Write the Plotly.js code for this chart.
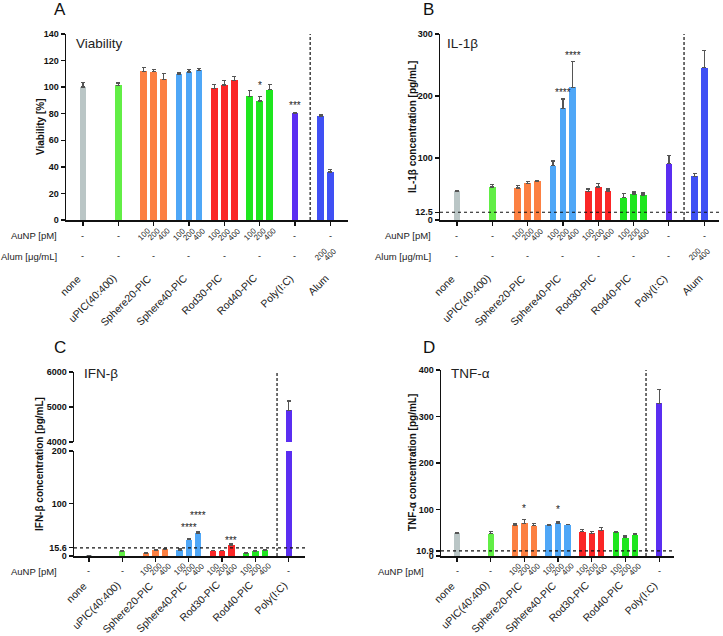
<!DOCTYPE html>
<html><head><meta charset="utf-8">
<script src="https://cdn.plot.ly/plotly-3.0.1.min.js"></script>
<style>html,body{margin:0;padding:0;background:#fff}#chart{width:723px;height:636px}</style>
</head><body><div id="chart"></div>
<script>
// ---------------- DATA ----------------
const groups = ['none','uPIC(40:400)','Sphere20-PIC','Sphere40-PIC','Rod30-PIC','Rod40-PIC','Poly(I:C)','Alum'];
const auNPDoses = ['100','200','400'];
const alumDoses = ['200','400'];
// group index of each bar (A, B include Alum; C, D do not)
const barGroupAB = [0,1,2,2,2,3,3,3,4,4,4,5,5,5,6,7,7];
const barGroupCD = [0,1,2,2,2,3,3,3,4,4,4,5,5,5,6];

const viabilityMean = [100,101.5, 112,111.7,106, 109.7,111.3,112.7, 99.2,101.7,105.2, 93.2,89.5,98, 80.2, 78.2,36.2];
const viabilityErr  = [3.5,1.7, 3,1.5,4.2, 1,2,1.3, 2.8,3.2,2.8, 4.5,3.2,3.8, 0.5, 1,2];

const il1bMean = [46.4,53.4, 51.7,59.2,62.5, 87.7,180.4,214.2, 46.4,53.4,47, 36.2,42.1,40.5, 90.9, 70.5,245.8];
const il1bErr  = [1.6,3.6, 4.3,3.3,1, 7.5,15,41.3, 3.6,5.3,3, 7,3.2,3.2, 12.9, 4.8,27.4];

const ifnbMean = [1,9.4, 5,11.3,12.6, 11.3,31.4,43.4, 10,10,20.8, 5.7,8.8,11.3, 4905];
const ifnbErr  = [0.5,1.3, 1.3,0.7,1.2, 1.9,2.6,2.6, 0.7,0.7,1.8, 0.6,0.6,0.7, 266];

const tnfaMean = [48.6,47.8, 66.7,70.3,65.2, 66.7,71,67.4, 52.2,48.6,55, 50.7,39.1,45.7, 328];
const tnfaErr  = [2.1,5.1, 2.1,8.7,4.4, 1.4,2.9,0.7, 5,3.6,6.6, 2.2,3.7,2.9, 30];

// significance labels: bar index -> text
const sigViability = [[12,'*'],[14,'***']];
const sigIl1b = [[6,'****'],[7,'****']];
const sigIfnb = [[6,'****'],[7,'****'],[10,'***']];
const sigTnfa = [[3,'*'],[6,'*']];

// reference lines (assay detection limits)
const limitIl1b = 12.5, limitIfnb = 15.6, limitTnfa = 10.9;

// ---------------- STYLE ----------------
const groupColors = ['#bac6c6','#62ee46','#fc8042','#4fa7f7','#fa2626','#1ee61e','#5a2ef1','#3f50f4'];
const FONT = 'Liberation Sans, Arial, Helvetica, sans-serif';
const W = 723, H = 636;
const X = px => px / W, Y = py => 1 - py / H;

function positions(barGroup){
  const xs = [], size = {}, count = {};
  barGroup.forEach(g => size[g] = (size[g]||0) + 1);
  barGroup.forEach(g => {
    const i = count[g] = (count[g]===undefined ? 0 : count[g]+1);
    let off = 0;
    if (size[g] === 3) off = (i - 1) * 0.28;
    else if (size[g] === 2) off = (i - 1) * 0.27;
    xs.push(g + off);
  });
  return {xs, size};
}

const panels = [
  {letter:'A', title:'Viability', ytitle:'Viability [%]', xa:'x', ya:'y', barGroup:barGroupAB, mean:viabilityMean, err:viabilityErr, sig:sigViability, sigLift:[4,0],
   px:[66,348], py:[34,220], xr:[-0.48,7.5], yr:[0,140], tickvals:[0,20,40,60,80,100,120,140], dash:6.43, limit:null,
   rows:[['AuNP [pM]',236],['Alum [μg/mL]',256]], rowRight:59, catY:269, letterPos:[60,10], titlePos:[74,43], ytitlePos:[40,127]},
  {letter:'B', title:'IL-1β', ytitle:'IL-1β concentration [pg/mL]', xa:'x2', ya:'y2', barGroup:barGroupAB, mean:il1bMean, err:il1bErr, sig:sigIl1b, sigLift:[-1,-1],
   px:[440,719], py:[34,220], xr:[-0.48,7.42], yr:[0,300], tickvals:[0,12.5,100,200,300], dash:6.43, limit:limitIl1b,
   rows:[['AuNP [pM]',236],['Alum [μg/mL]',256]], rowRight:433, catY:269, letterPos:[428,10], titlePos:[445,43], ytitlePos:[412,127]},
  {letter:'C', title:'IFN-β', ytitle:'IFN-β concentration [pg/mL]', xa:'x3', ya:'y3', yUpper:'y4', barGroup:barGroupCD, mean:ifnbMean, err:ifnbErr, sig:sigIfnb, sigLift:[3,9,-4],
   px:[74,305], py:[451,556], pyUpper:[372,442], xr:[-0.45,6.49], yr:[0,200], yrUpper:[4000,6000], tickvals:[0,15.6,100,200], tickvalsUpper:[4000,5000,6000], dash:5.65, limit:limitIfnb,
   rows:[['AuNP [pM]',571]], rowRight:59, catY:576, letterPos:[60,347], titlePos:[82,373], ytitlePos:[40,464]},
  {letter:'D', title:'TNF-α', ytitle:'TNF-α concentration [pg/mL]', xa:'x4', ya:'y5', barGroup:barGroupCD, mean:tnfaMean, err:tnfaErr, sig:sigTnfa, sigLift:[3,5],
   px:[441,674], py:[370,556], xr:[-0.475,6.44], yr:[0,400], tickvals:[0,10.9,100,200,300,400], dash:5.61, limit:limitTnfa,
   rows:[['AuNP [pM]',571]], rowRight:426, catY:576, letterPos:[429,347], titlePos:[449,373], ytitlePos:[412,463]}
];

const traces = [], annotations = [], shapes = [];
const layout = {
  width: W, height: H, margin:{l:0,r:0,t:0,b:0}, paper_bgcolor:'#fff', plot_bgcolor:'#fff',
  showlegend:false, font:{family:FONT, color:'#222'}, bargap:0,
  annotations, shapes
};

function axisBase(){
  return {showline:true, linecolor:'#111', linewidth:1.5, ticks:'outside', ticklen:4, tickwidth:1.3, tickcolor:'#111',
          showgrid:false, zeroline:false, fixedrange:true, automargin:false};
}
const ytickfont = {family:FONT, size:9, color:'#111', weight:'bold'};

panels.forEach(p => {
  const {xs, size} = positions(p.barGroup);
  const nG = Math.max(...p.barGroup) + 1;
  const colors = p.barGroup.map(g => groupColors[g]);
  const xKey = p.xa === 'x' ? 'xaxis' : 'xaxis' + p.xa.slice(1);
  const yKey = p.ya === 'y' ? 'yaxis' : 'yaxis' + p.ya.slice(1);
  layout[xKey] = Object.assign(axisBase(), {domain:[X(p.px[0]),X(p.px[1])], range:p.xr, anchor:p.ya,
     tickvals:[...Array(nG).keys()], showticklabels:false});
  layout[yKey] = Object.assign(axisBase(), {domain:[Y(p.py[1]),Y(p.py[0])], range:p.yr, anchor:p.xa,
     tickvals:p.tickvals, ticktext:p.tickvals.map(String), tickfont:ytickfont});
  const bar = (ya) => ({type:'bar', x:xs, y:p.mean, width:xs.map(()=>0.19), xaxis:p.xa, yaxis:ya,
     marker:{color:colors, line:{width:0}},
     error_y:{type:'data', symmetric:false, array:p.err, arrayminus:p.err.map(()=>0), color:'#555', thickness:1.3, width:2},
     hoverinfo:'skip'});
  traces.push(bar(p.ya));
  let topPy = p.py[0];
  if (p.yUpper){
    const uKey = 'yaxis' + p.yUpper.slice(1);
    layout[uKey] = Object.assign(axisBase(), {domain:[Y(p.pyUpper[1]),Y(p.pyUpper[0])], range:p.yrUpper, anchor:p.xa,
       tickvals:p.tickvalsUpper, ticktext:p.tickvalsUpper.map(String), tickfont:ytickfont});
    traces.push(bar(p.yUpper));
    topPy = p.pyUpper[0];
  }
  // dashed separator
  shapes.push({type:'line', xref:p.xa, yref:'paper', x0:p.dash, x1:p.dash, y0:Y(p.py[1]), y1:Y(topPy),
     line:{color:'#333', width:1.4, dash:'3px,2px'}});
  // detection-limit dotted line
  if (p.limit !== null){
    shapes.push({type:'line', xref:p.xa+' domain', yref:p.ya, x0:0, x1:1, y0:p.limit, y1:p.limit,
       line:{color:'#111', width:1.2, dash:'dot'}});
  }
  // significance stars
  p.sig.forEach(([bi, txt], k) => {
    annotations.push({xref:p.xa, yref:p.ya, x:xs[bi], y:p.mean[bi]+p.err[bi], text:txt, showarrow:false,
       xanchor:'center', yanchor:'bottom', yshift:p.sigLift[k]||0, font:{family:FONT, size:10, color:'#222'}});
  });
  // panel letter, inner title, y title
  annotations.push({xref:'paper', yref:'paper', x:X(p.letterPos[0]), y:Y(p.letterPos[1]), text:p.letter, showarrow:false,
     xanchor:'center', yanchor:'middle', font:{family:FONT, size:17, color:'#111'}});
  annotations.push({xref:'paper', yref:'paper', x:X(p.titlePos[0]), y:Y(p.titlePos[1]), text:p.title, showarrow:false,
     xanchor:'left', yanchor:'middle', font:{family:FONT, size:13.5, color:'#222'}});
  annotations.push({xref:'paper', yref:'paper', x:X(p.ytitlePos[0]), y:Y(p.ytitlePos[1]), text:p.ytitle, showarrow:false,
     xanchor:'center', yanchor:'middle', textangle:-90, font:{family:FONT, size:10, color:'#111', weight:'bold'}});
  // condition rows
  p.rows.forEach(([label, rowPy]) => {
    annotations.push({xref:'paper', yref:'paper', x:X(p.rowRight), y:Y(rowPy), text:label, showarrow:false,
       xanchor:'right', yanchor:'middle', font:{family:FONT, size:9.5, color:'#222'}});
    const isAlumRow = label.startsWith('Alum');
    for (let g = 0; g < nG; g++){
      const idx = p.barGroup.map((bg,i)=>bg===g?i:-1).filter(i=>i>=0);
      const showDoses = isAlumRow ? (groups[g]==='Alum') : (size[g]===3);
      if (showDoses){
        const doses = isAlumRow ? alumDoses : auNPDoses;
        idx.forEach((bi, j) => annotations.push({xref:p.xa, yref:'paper', x:xs[bi], y:Y(rowPy-2), text:doses[j], showarrow:false,
          xanchor:'center', yanchor:'middle', textangle:-45, font:{family:FONT, size:8, color:'#222'}}));
      } else {
        annotations.push({xref:p.xa, yref:'paper', x:g, y:Y(rowPy), text:'-', showarrow:false,
          xanchor:'center', yanchor:'middle', font:{family:FONT, size:9, color:'#222'}});
      }
    }
  });
  // category labels
  for (let g = 0; g < nG; g++){
    annotations.push({xref:p.xa, yref:'paper', x:g, y:Y(p.catY), text:groups[g], showarrow:false, xshift:3,
      xanchor:'right', yanchor:'top', textangle:-45, font:{family:FONT, size:10.5, color:'#222'}});
  }
});

Plotly.newPlot('chart', traces, layout, {displayModeBar:false, staticPlot:true});
</script>
</body></html>
